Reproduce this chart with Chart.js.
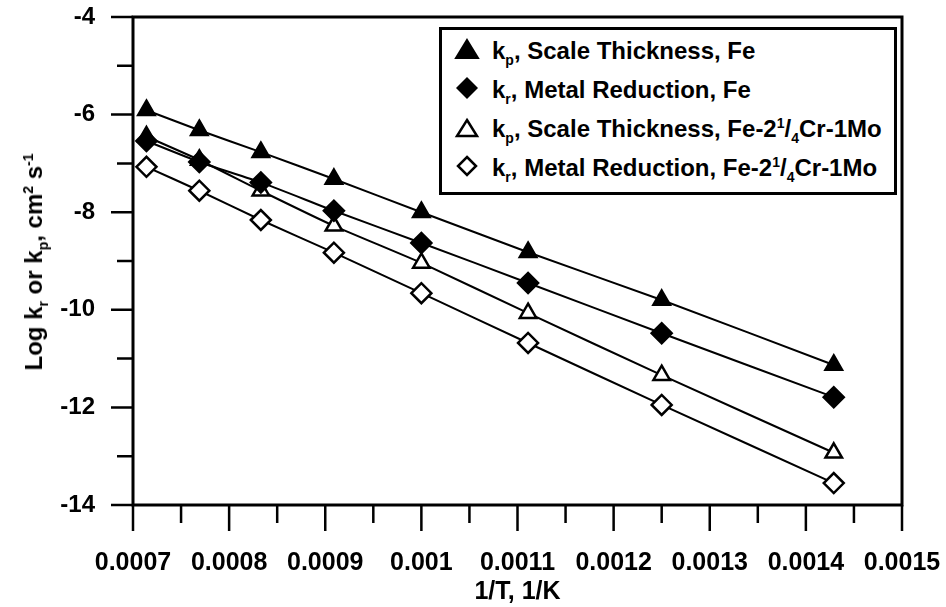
<!DOCTYPE html>
<html>
<head>
<meta charset="utf-8">
<script src="https://cdn.jsdelivr.net/npm/chart.js@4.4.1/dist/chart.umd.min.js"></script>
<style>
  body { margin: 0; background: #fff; }
  #wrap { position: relative; width: 946px; height: 607px; font-family: "Liberation Sans", Arial, sans-serif; font-weight: bold; color: #000; }
  #chart { position: absolute; left: 0; top: 0; }
  #ytitle { position: absolute; left: 34px; top: 262px; transform: translate(-50%, -50%) rotate(-90deg); white-space: nowrap; font-size: 24px; }
  #legend { position: absolute; left: 439px; top: 27px; width: 458px; height: 168px; border: 3px solid #000; box-sizing: border-box; background: #fff; padding-top: 1px; }
  .row { height: 39px; line-height: 39px; font-size: 24px; white-space: nowrap; position: relative; }
  .row svg { position: absolute; left: 12px; top: 7px; }
  .row span.t { position: absolute; left: 50px; }
  sub, sup { font-size: 14px; line-height: 0; }
</style>
</head>
<body>
<div id="wrap">
  <canvas id="chart" width="946" height="607"></canvas>
  <div id="ytitle">Log k<sub>r</sub> or k<sub>p</sub>, cm<sup>2</sup> s<sup>-1</sup></div>
  <div id="legend"></div>
</div>
<script>
// 1/T 값 (1400K ~ 700K)
const invT = [0.000714, 0.000769, 0.000833, 0.000909, 0.001, 0.001111, 0.00125, 0.001429];

// 각 시리즈 (log k)
const kpFe = [-5.91, -6.32, -6.77, -7.32, -8.0, -8.82, -9.80, -11.13];
const krFe = [-6.54, -6.97, -7.39, -7.97, -8.63, -9.45, -10.48, -11.79];
const kpCrMo = [-6.45, -6.93, -7.56, -8.28, -9.04, -10.07, -11.34, -12.93];
const krCrMo = [-7.07, -7.56, -8.16, -8.83, -9.66, -10.68, -11.95, -13.55];

const seriesNames = [
    'k<sub>p</sub>, Scale Thickness, Fe',
    'k<sub>r</sub>, Metal Reduction, Fe',
    'k<sub>p</sub>, Scale Thickness, Fe-2<sup>1</sup>/<sub>4</sub>Cr-1Mo',
    'k<sub>r</sub>, Metal Reduction, Fe-2<sup>1</sup>/<sub>4</sub>Cr-1Mo'
];

// 축 눈금
const xTicks = [0.0007, 0.00075, 0.0008, 0.00085, 0.0009, 0.00095, 0.001, 0.00105, 0.0011, 0.00115, 0.0012, 0.00125, 0.0013, 0.00135, 0.0014, 0.00145, 0.0015];
const xTickLabels = ['0.0007', '', '0.0008', '', '0.0009', '', '0.001', '', '0.0011', '', '0.0012', '', '0.0013', '', '0.0014', '', '0.0015'];
const yTicks = [-14, -13, -12, -11, -10, -9, -8, -7, -6, -5, -4];
const yTickLabels = ['-14', '', '-12', '', '-10', '', '-8', '', '-6', '', '-4'];

const FONT = "'Liberation Sans', Arial, sans-serif";

function pts(ys) {
    return ys.map((v, i) => ({ x: invT[i], y: v }));
}

function makeSet(ys, style, filled) {
    return {
        data: pts(ys),
        borderColor: '#000',
        borderWidth: 2,
        pointStyle: style,
        pointRadius: style === 'triangle' ? 9.5 : 10,
        pointBorderWidth: 2.5,
        pointBackgroundColor: filled ? '#000' : '#fff',
        pointBorderColor: '#000',
        tension: 0.15,
        fill: false
    };
}

// 라벨 여백이 차트 영역을 줄이지 않게
function noPad(s) {
    s.paddingTop = 0; s.paddingBottom = 0; s.paddingLeft = 0; s.paddingRight = 0;
}

// 테두리 + 눈금선 직접 그리기
const frameTicks = {
    id: 'frameTicks',
    afterDraw(chart) {
        const { ctx, chartArea: a, scales } = chart;
        ctx.save();
        ctx.strokeStyle = '#000';
        ctx.lineWidth = 3;
        ctx.strokeRect(a.left, a.top, a.right - a.left, a.bottom - a.top);
        ctx.lineWidth = 2.5;
        ctx.beginPath();
        xTicks.forEach((v, i) => {
            const px = scales.x.getPixelForValue(v);
            const len = xTickLabels[i] ? 26 : 18;
            ctx.moveTo(px, a.bottom);
            ctx.lineTo(px, a.bottom + len);
        });
        yTicks.forEach((v, i) => {
            const py = scales.y.getPixelForValue(v);
            const len = yTickLabels[i] ? 22 : 16;
            ctx.moveTo(a.left, py);
            ctx.lineTo(a.left - len, py);
        });
        ctx.stroke();
        ctx.restore();
    }
};

new Chart(document.getElementById('chart'), {
    type: 'line',
    data: {
        datasets: [
            makeSet(kpFe, 'triangle', true),
            makeSet(krFe, 'rectRot', true),
            makeSet(kpCrMo, 'triangle', false),
            makeSet(krCrMo, 'rectRot', false)
        ]
    },
    options: {
        responsive: false,
        animation: false,
        layout: { padding: { top: 17, right: 44, left: 0, bottom: 0 } },
        plugins: { legend: { display: false }, tooltip: { enabled: false } },
        scales: {
            x: {
                type: 'linear',
                min: 0.0007,
                max: 0.0015,
                grid: { display: false },
                border: { display: false },
                afterBuildTicks: s => { s.ticks = xTicks.map(v => ({ value: v })); },
                afterFit: s => { s.height = 102; noPad(s); },
                ticks: {
                    autoSkip: false,
                    maxRotation: 0,
                    padding: 35,
                    color: '#000',
                    font: { family: FONT, size: 25, weight: 'bold' },
                    callback: (v, i) => xTickLabels[i]
                },
                title: {
                    display: true,
                    text: '1/T, 1/K',
                    color: '#000',
                    font: { family: FONT, size: 25, weight: 'bold' },
                    padding: { top: 0, bottom: 0 }
                }
            },
            y: {
                type: 'linear',
                min: -14,
                max: -4,
                grid: { display: false },
                border: { display: false },
                afterBuildTicks: s => { s.ticks = yTicks.map(v => ({ value: v })); },
                afterFit: s => { s.width = 133; noPad(s); },
                ticks: {
                    autoSkip: false,
                    padding: 30,
                    color: '#000',
                    font: { family: FONT, size: 24, weight: 'bold' },
                    callback: (v, i) => yTickLabels[i]
                }
            }
        }
    },
    plugins: [frameTicks]
});

// 범례 (아래첨자 때문에 HTML로)
const shapes = [
    '<polygon points="13,2 24,20 2,20" fill="#000" stroke="#000" stroke-width="2"/>',
    '<polygon points="13,0 24,11 13,22 2,11" fill="#000"/>',
    '<polygon points="13,4 23,20 3,20" fill="#fff" stroke="#000" stroke-width="2.5"/>',
    '<polygon points="13,2 22,11 13,20 4,11" fill="#fff" stroke="#000" stroke-width="2.5"/>'
];
document.getElementById('legend').innerHTML = seriesNames.map((name, i) =>
    `<div class="row"><svg width="26" height="24" viewBox="0 0 26 24">${shapes[i]}</svg><span class="t">${name}</span></div>`
).join('');
</script>
</body>
</html>
